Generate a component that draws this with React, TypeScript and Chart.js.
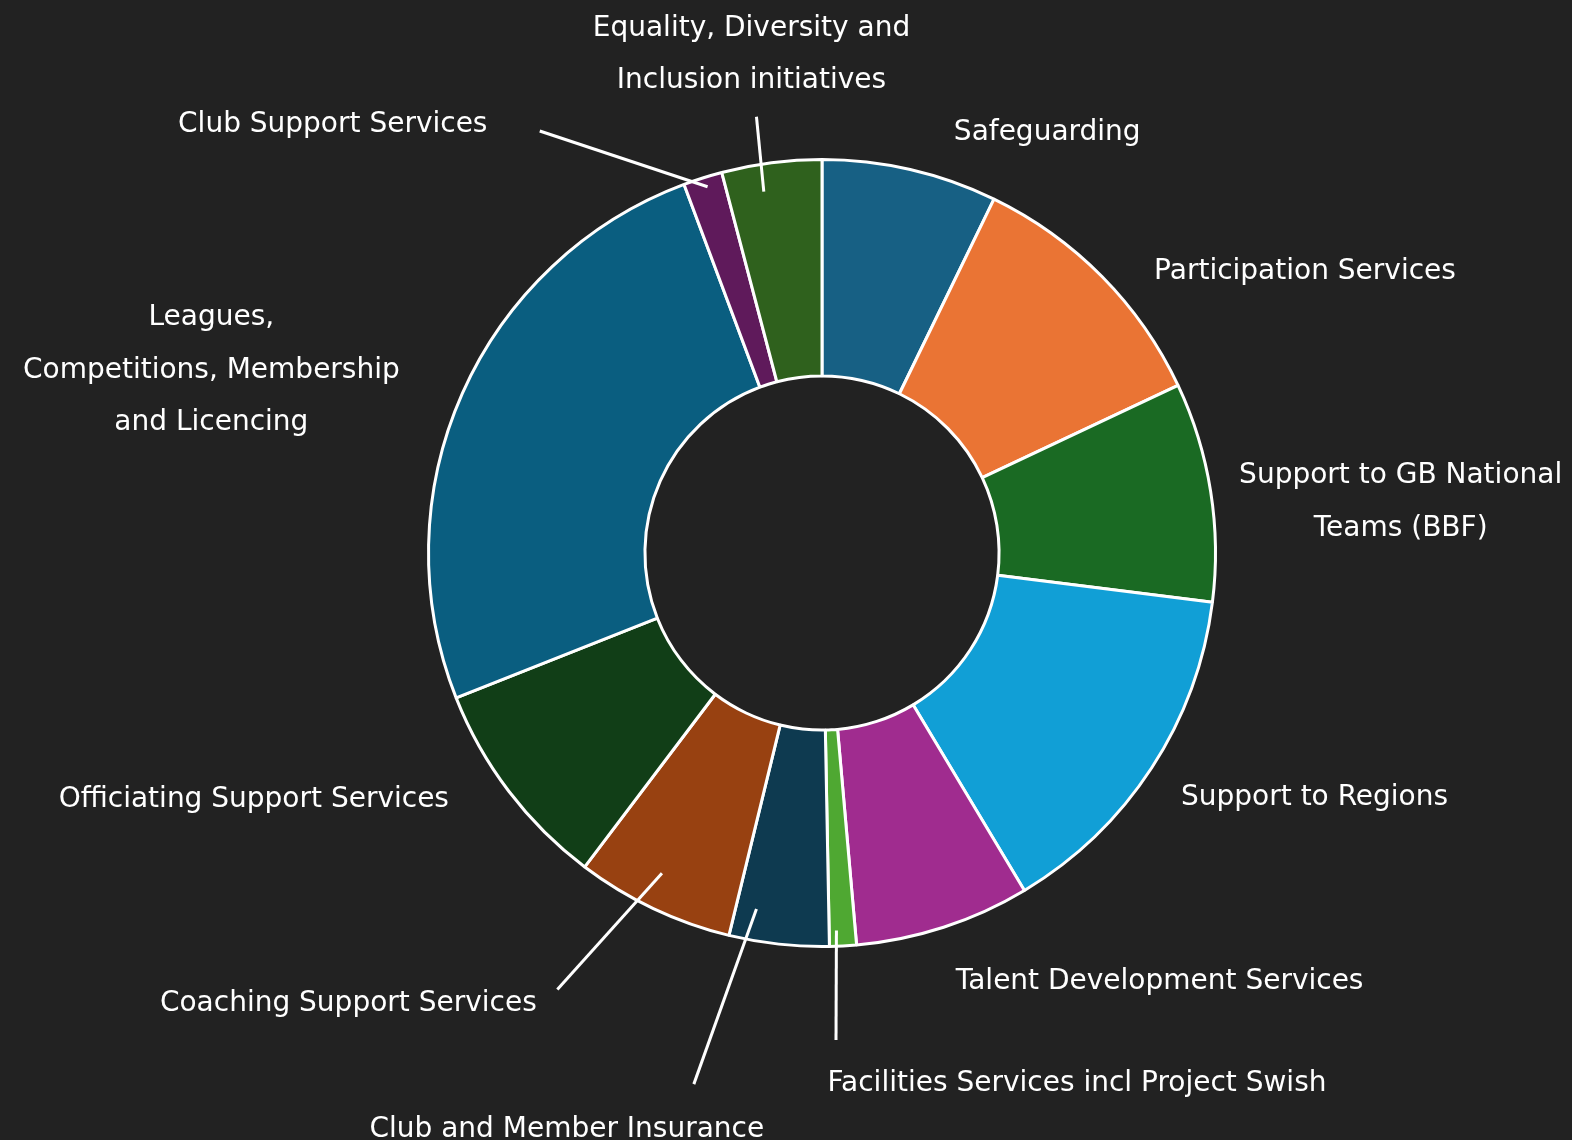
import React, { useEffect, useRef } from "react";
import { Chart, registerables } from "chart.js";

Chart.register(...registerables);

const categories: string[][] = [
  ["Safeguarding"],
  ["Participation Services"],
  ["Support to GB National", "Teams (BBF)"],
  ["Support to Regions"],
  ["Talent Development Services"],
  ["Facilities Services incl Project Swish"],
  ["Club and Member Insurance"],
  ["Coaching Support Services"],
  ["Officiating Support Services"],
  ["Leagues,", "Competitions, Membership", "and Licencing"],
  ["Club Support Services"],
  ["Equality, Diversity and", "Inclusion initiatives"],
];

const shares: number[] = [7.2, 10.8, 9.0, 14.4, 7.2, 1.1, 4.1, 6.5, 8.7, 25.3, 1.6, 4.1];

const sliceColors: string[] = [
  "#176084", "#ea7434", "#1a6a23", "#119fd6", "#a02c8f", "#4fa832",
  "#0e3a50", "#984111", "#113e17", "#0a5e80", "#5f1a5b", "#2f611d",
];

// label block centre offset from the slice's outer mid-point (layout only)
const labelOffsets: [number, number][] = [
  [137, -37], [203, -5], [190, 11], [163, 30], [216, 54], [234, 138],
  [-212, 186], [-305, 95], [-255, 8], [-251, -23], [-370, -53], [-20, -108],
];

// leader lines: [slice index, angle fraction in slice, radius fraction, end dx, end dy]
const leaders: [number, number, number, number, number][] = [
  [5, 0.72, 0.96, -7, 94],
  [6, 0.78, 0.92, -85, 140],
  [7, 0.55, 0.91, -96, 81],
  [10, 0.55, 0.975, -163, -47],
  [11, 0.38, 0.93, -15, -46],
];

const FONT = '28px "DejaVu Sans"';
const LINE_H = 52.5;

const labelPlugin = {
  id: "outerLabels",
  afterDatasetsDraw(chart: any) {
    const ctx = chart.ctx;
    const meta = chart.getDatasetMeta(0);
    ctx.save();
    ctx.strokeStyle = "#ffffff";
    ctx.lineWidth = 3;
    ctx.lineCap = "butt";
    leaders.forEach(([i, af, rf, ex, ey]) => {
      const arc = meta.data[i];
      const p = arc.getProps(["x", "y", "startAngle", "endAngle", "outerRadius"], true);
      const mid = (p.startAngle + p.endAngle) / 2;
      const ax = p.x + Math.cos(mid) * p.outerRadius;
      const ay = p.y + Math.sin(mid) * p.outerRadius;
      const a = p.startAngle + (p.endAngle - p.startAngle) * af;
      const sx = p.x + Math.cos(a) * p.outerRadius * rf;
      const sy = p.y + Math.sin(a) * p.outerRadius * rf;
      ctx.beginPath();
      ctx.moveTo(sx, sy);
      ctx.lineTo(ax + ex, ay + ey);
      ctx.stroke();
    });
    ctx.fillStyle = "#ffffff";
    ctx.font = FONT;
    ctx.textAlign = "center";
    ctx.textBaseline = "middle";
    meta.data.forEach((arc: any, i: number) => {
      const p = arc.getProps(["x", "y", "startAngle", "endAngle", "outerRadius"], true);
      const mid = (p.startAngle + p.endAngle) / 2;
      const ax = p.x + Math.cos(mid) * p.outerRadius;
      const ay = p.y + Math.sin(mid) * p.outerRadius;
      const [dx, dy] = labelOffsets[i];
      const lines = categories[i];
      const cx = ax + dx;
      const top = ay + dy - ((lines.length - 1) * LINE_H) / 2;
      lines.forEach((t, k) => ctx.fillText(t, cx, top + k * LINE_H));
    });
    ctx.restore();
  },
};

export default function App() {
  const ref = useRef<HTMLCanvasElement | null>(null);
  useEffect(() => {
    document.body.style.margin = "0";
    document.body.style.background = "#222222";
    const canvas = ref.current;
    if (!canvas) return;
    const chart = new Chart(canvas, {
      type: "doughnut",
      data: {
        labels: categories.map((c) => c.join(" ")),
        datasets: [
          {
            data: shares,
            backgroundColor: sliceColors,
            borderColor: "#ffffff",
            borderWidth: 3,
            hoverBorderWidth: 3,
          },
        ],
      },
      options: {
        responsive: false,
        animation: false,
        devicePixelRatio: 1,
        cutout: "45%",
        layout: { padding: { left: 402, right: 330, top: 158, bottom: 192 } },
        plugins: {
          legend: { display: false },
          tooltip: { enabled: false },
        },
      },
      plugins: [labelPlugin],
    });
    return () => chart.destroy();
  }, []);
  return (
    <div style={{ width: 1572, height: 1140, background: "#222222" }}>
      <canvas ref={ref} width={1572} height={1140} style={{ display: "block" }} />
    </div>
  );
}
